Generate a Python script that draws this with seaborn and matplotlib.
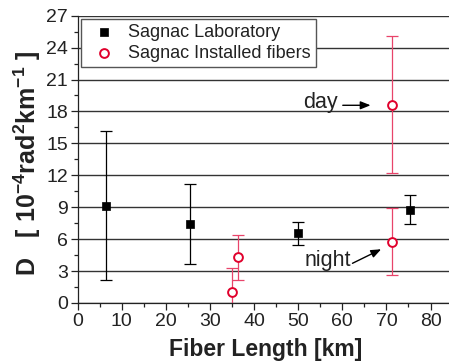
import numpy as np
import pandas as pd
import matplotlib
matplotlib.use("Agg")
import matplotlib.pyplot as plt
import seaborn as sns

# Dispersion coefficient vs. fiber length
lab_length = [6.5, 25.4, 50.0, 75.4]
lab_d = [9.14, 7.42, 6.55, 8.77]
lab_err = [6.98, 3.80, 1.10, 1.37]

inst_length = [34.9, 36.4, 71.3, 71.3]
inst_d = [1.03, 4.29, 18.64, 5.76]
inst_err = [2.23, 2.13, 6.42, 3.14]

y_ticks = [0, 3, 6, 9, 12, 15, 18, 21, 24, 27]
x_ticks = [0, 10, 20, 30, 40, 50, 60, 70, 80]

sns.set_theme(style="ticks")
plt.rcParams["font.family"] = ["Liberation Sans", "DejaVu Sans"]
plt.rcParams["mathtext.fontset"] = "custom"
plt.rcParams["mathtext.rm"] = "Liberation Sans:bold"
plt.rcParams["mathtext.bf"] = "Liberation Sans:bold"
plt.rcParams["mathtext.default"] = "rm"

TXT = "#222222"
RED = "#e0002c"
RED_BAR = "#e8446a"

lab = pd.DataFrame({"length": lab_length, "D": lab_d, "err": lab_err,
                    "set": "Sagnac Laboratory"})
inst = pd.DataFrame({"length": inst_length, "D": inst_d, "err": inst_err,
                     "set": "Sagnac Installed fibers"})

fig = plt.figure(figsize=(4.49, 3.64), dpi=100)
ax = fig.add_axes([0.173, 0.1676, 0.835, 0.7893])

# horizontal grid
for yv in y_ticks:
    ax.axhline(yv, color="#333333", lw=1.0, zorder=0)

ax.errorbar(lab["length"], lab["D"], yerr=lab["err"], fmt="none",
            ecolor="black", elinewidth=0.9, capsize=4.5, capthick=0.9, zorder=2)
ax.errorbar(inst["length"], inst["D"], yerr=inst["err"], fmt="none",
            ecolor=RED_BAR, elinewidth=0.9, capsize=4.5, capthick=0.9, zorder=2)

sns.scatterplot(data=lab, x="length", y="D", marker="s", s=38, color="black",
                edgecolor="black", linewidth=0.5, ax=ax, zorder=3,
                label="Sagnac Laboratory")
sns.scatterplot(data=inst, x="length", y="D", marker="o", s=40,
                facecolor="white", edgecolor=RED, linewidth=1.4, ax=ax,
                zorder=3, label="Sagnac Installed fibers")

ax.set_xlim(0, 85)
ax.set_ylim(0, 27)
ax.set_xticks(x_ticks)
ax.set_yticks(y_ticks)
ax.set_xticks(np.arange(5, 85, 10), minor=True)
ax.set_yticks(np.arange(1.5, 27, 3), minor=True)
ax.tick_params(axis="both", which="major", direction="out", length=5,
               width=0.9, color="#222222", labelsize=14, labelcolor=TXT, pad=2)
ax.tick_params(axis="both", which="minor", direction="out", length=3,
               width=0.9, color="#222222")
for side in ("top", "right"):
    ax.spines[side].set_visible(False)
for side in ("left", "bottom"):
    ax.spines[side].set_color("#222222")
    ax.spines[side].set_linewidth(0.9)

ax.set_xlabel("Fiber Length [km]", fontsize=16.5, fontweight="bold",
              color=TXT, labelpad=6)
ax.set_ylabel(r"D   [ 10$^{-4}$rad$^{2}$km$^{-1}$ ]", fontsize=18,
              fontweight="bold", color=TXT, labelpad=2)
ax.yaxis.label.set_y(0.485)

ax.text(55, 18.8, "day", fontsize=15.5, color=TXT, ha="center", va="center")
ax.annotate("", xy=(66.4, 18.58), xytext=(60.1, 18.58),
            arrowprops=dict(arrowstyle="-|>,head_length=0.5,head_width=0.2",
                            color="black", lw=1.0, shrinkA=0, shrinkB=0))
ax.text(56.7, 4.0, "night", fontsize=15.5, color=TXT, ha="center", va="center")
ax.annotate("", xy=(68.8, 5.05), xytext=(62.3, 3.73),
            arrowprops=dict(arrowstyle="-|>,head_length=0.5,head_width=0.2",
                            color="black", lw=1.0, shrinkA=0, shrinkB=0))

leg = ax.legend(loc="upper left", bbox_to_anchor=(0.008, 0.99), fontsize=13,
                frameon=True, fancybox=False, framealpha=1, edgecolor="#555555",
                borderpad=0.3, labelspacing=0.2, handletextpad=0.3,
                handlelength=2.0, borderaxespad=0)
leg.get_frame().set_linewidth(1.0)
for t in leg.get_texts():
    t.set_color(TXT)

fig.savefig("out.png", dpi=100)
